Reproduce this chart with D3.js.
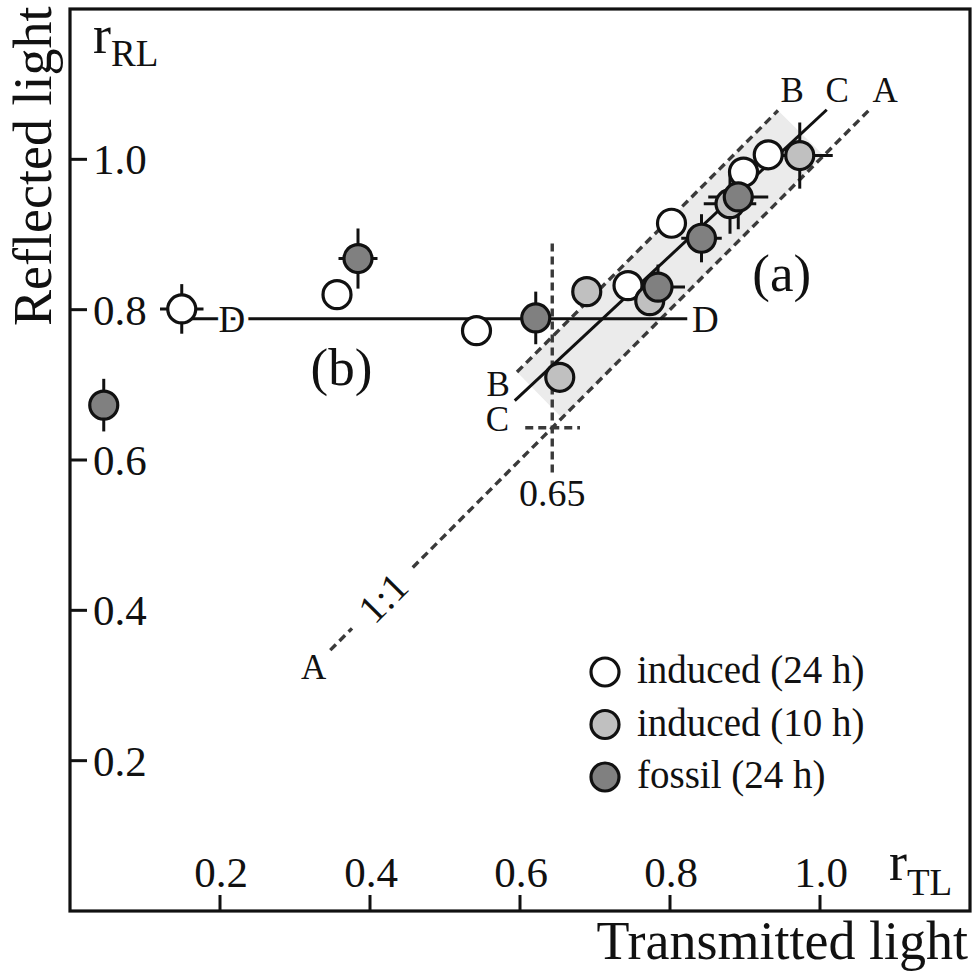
<!DOCTYPE html>
<html><head><meta charset="utf-8">
<script src="https://cdn.jsdelivr.net/npm/d3@7"></script>
<style>body{margin:0;background:#fff}svg{display:block}text{font-family:"Liberation Serif","Times New Roman",serif;fill:#111}</style>
</head><body><svg id="c" width="978" height="972"></svg>
<script>
// ---- data ----
const xTicks = [0.2, 0.4, 0.6, 0.8, 1.0];
const yTicks = [0.2, 0.4, 0.6, 0.8, 1.0];
const induced24 = [
  {x:0.149, y:0.801, ex:0.029, ey:0.033},
  {x:0.356, y:0.820},
  {x:0.542, y:0.772},
  {x:0.744, y:0.832},
  {x:0.802, y:0.915},
  {x:0.898, y:0.983},
  {x:0.931, y:1.006}
];
const induced10 = [
  {x:0.689, y:0.824},
  {x:0.653, y:0.710},
  {x:0.773, y:0.812},
  {x:0.880, y:0.941, ex:0.035, ey:0.040},
  {x:0.973, y:1.005, ex:0.044, ey:0.044}
];
const fossil = [
  {x:0.045, y:0.673, ey:0.035},
  {x:0.384, y:0.868, ex:0.026, ey:0.040},
  {x:0.621, y:0.789, ey:0.035},
  {x:0.784, y:0.830, ex:0.036, ey:0.030},
  {x:0.842, y:0.895, ex:0.027, ey:0.032},
  {x:0.891, y:0.950, ex:0.040, ey:0.043}
];
const band = [[0.944,1.065],[1.005,1.005],[0.656,0.656],[0.596,0.717]];
const lineA = [[[0.347,0.347],[0.376,0.376]], [[0.457,0.457],[1.065,1.065]]];
const lineB = [[0.596,0.717],[0.944,1.065]];
const lineC = [[0.593,0.679],[1.009,1.066]];
const lineD = [[0.149,0.788],[0.823,0.788]];
const crossV = [[0.643,0.888],[0.643,0.577]];
const crossH = [[0.607,0.643],[0.680,0.643]];
const series = [
  {name:"induced (24 h)", data:induced24, fill:"#ffffff"},
  {name:"induced (10 h)", data:induced10, fill:"#c0c0c0"},
  {name:"fossil (24 h)",  data:fossil,    fill:"#808080"}
];
const labels = [
  {t:"A", x:0.325, y:0.325},
  {t:"A", x:1.087, y:1.092},
  {t:"B", x:0.963, y:1.092},
  {t:"C", x:1.023, y:1.092},
  {t:"B", x:0.571, y:0.702},
  {t:"C", x:0.570, y:0.655},
];

// ---- chart ----
const svg = d3.select("#c");
const x = d3.scaleLinear().domain([0,1.2]).range([70,970]);
const y = d3.scaleLinear().domain([0,1.2]).range([911,9]);
const line = d3.line().x(d=>x(d[0])).y(d=>y(d[1]));

// band
svg.append("path").attr("d", line(band)+"Z").attr("fill","#ebebeb");

// dashed lines
const dash = {stroke:"#3a3a3a", "stroke-width":3.4, "stroke-dasharray":"8,5", fill:"none"};
function addPath(pts, style){
  const p = svg.append("path").attr("d", line(pts));
  Object.entries(style).forEach(([k,v])=>p.attr(k,v));
  return p;
}
lineA.forEach(s=>addPath(s, dash));
addPath(lineB, dash);
addPath(crossV, dash);
addPath(crossH, dash);
addPath(lineC, {stroke:"#111", "stroke-width":3, fill:"none"});
addPath(lineD, {stroke:"#111", "stroke-width":3, fill:"none"});

// annotation labels
labels.forEach(l=>svg.append("text").attr("x",x(l.x)).attr("y",y(l.y))
  .attr("text-anchor","middle").attr("dy","0.35em").attr("font-size",35).text(l.t));
// D labels with white halo breaking the line
[[lineD[0][0]+0.0667, lineD[0][1]],[lineD[1][0]+0.024, lineD[1][1]]].forEach(p=>{
  svg.append("text").attr("x",x(p[0])).attr("y",y(p[1])).attr("dy","0.35em")
    .attr("text-anchor","middle").attr("font-size",37)
    .attr("stroke","#fff").attr("stroke-width",9).attr("paint-order","stroke").text("D");
});
// 1:1 label
svg.append("text").attr("transform",`translate(${x(0.417)},${y(0.417)}) rotate(-45)`)
  .attr("text-anchor","middle").attr("dy","0.35em").attr("font-size",40).text("1:1");
// 0.65 label
svg.append("text").attr("x",x(crossV[1][0])).attr("y",y(crossV[1][1])+29)
  .attr("text-anchor","middle").attr("font-size",38).text("0.65");
// (a) (b)
svg.append("text").attr("x",x(0.949)).attr("y",y(0.85)).attr("dy","0.35em")
  .attr("text-anchor","middle").attr("font-size",53).text("(a)");
svg.append("text").attr("x",x(0.362)).attr("y",y(0.725)).attr("dy","0.35em")
  .attr("text-anchor","middle").attr("font-size",53).text("(b)");

// error bars
const eb = svg.append("g").attr("stroke","#111").attr("stroke-width",3);
series.forEach(s=>s.data.forEach(d=>{
  if(d.ex) eb.append("line").attr("x1",x(d.x-d.ex)).attr("x2",x(d.x+d.ex)).attr("y1",y(d.y)).attr("y2",y(d.y));
  if(d.ey) eb.append("line").attr("x1",x(d.x)).attr("x2",x(d.x)).attr("y1",y(d.y-d.ey)).attr("y2",y(d.y+d.ey));
}));
// points
series.forEach(s=>{
  svg.append("g").selectAll("circle").data(s.data).join("circle")
    .attr("cx",d=>x(d.x)).attr("cy",d=>y(d.y)).attr("r",14)
    .attr("fill",s.fill).attr("stroke","#111").attr("stroke-width",3.2);
});

// frame
svg.append("rect").attr("x",70).attr("y",9).attr("width",900).attr("height",902)
  .attr("fill","none").attr("stroke","#111").attr("stroke-width",3.2);
// ticks (inward) and labels
const ax = svg.append("g").attr("stroke","#111").attr("stroke-width",3);
xTicks.forEach(t=>ax.append("line").attr("x1",x(t)).attr("x2",x(t)).attr("y1",911).attr("y2",895));
yTicks.forEach(t=>ax.append("line").attr("y1",y(t)).attr("y2",y(t)).attr("x1",70).attr("x2",87));
xTicks.forEach(t=>svg.append("text").attr("x",x(t)+1).attr("y",887).attr("text-anchor","middle")
  .attr("font-size",43).text(d3.format(".1f")(t)));
yTicks.forEach(t=>svg.append("text").attr("x",93).attr("y",y(t)).attr("dy","0.35em")
  .attr("font-size",43).text(d3.format(".1f")(t)));

// axis symbols
const rRL = svg.append("text").attr("x",93).attr("y",53).attr("font-size",54);
rRL.append("tspan").text("r");
rRL.append("tspan").attr("font-size",37).attr("dy",13).text("RL");
const rTL = svg.append("text").attr("x",889).attr("y",880).attr("font-size",54);
rTL.append("tspan").text("r");
rTL.append("tspan").attr("font-size",37).attr("dy",15).text("TL");

// axis titles
svg.append("text").attr("x",968).attr("y",959).attr("text-anchor","end").attr("font-size",54).text("Transmitted light");
svg.append("text").attr("transform","translate(51,326) rotate(-90)").attr("font-size",54).text("Reflected light");

// legend
const lg = svg.append("g");
series.forEach((s,i)=>{
  const yy = 672 + i*52.5;
  lg.append("circle").attr("cx",605).attr("cy",yy).attr("r",14).attr("fill",s.fill)
    .attr("stroke","#111").attr("stroke-width",3.2);
  lg.append("text").attr("x",637).attr("y",yy+11).attr("font-size",39).text(s.name);
});
</script></body></html>
